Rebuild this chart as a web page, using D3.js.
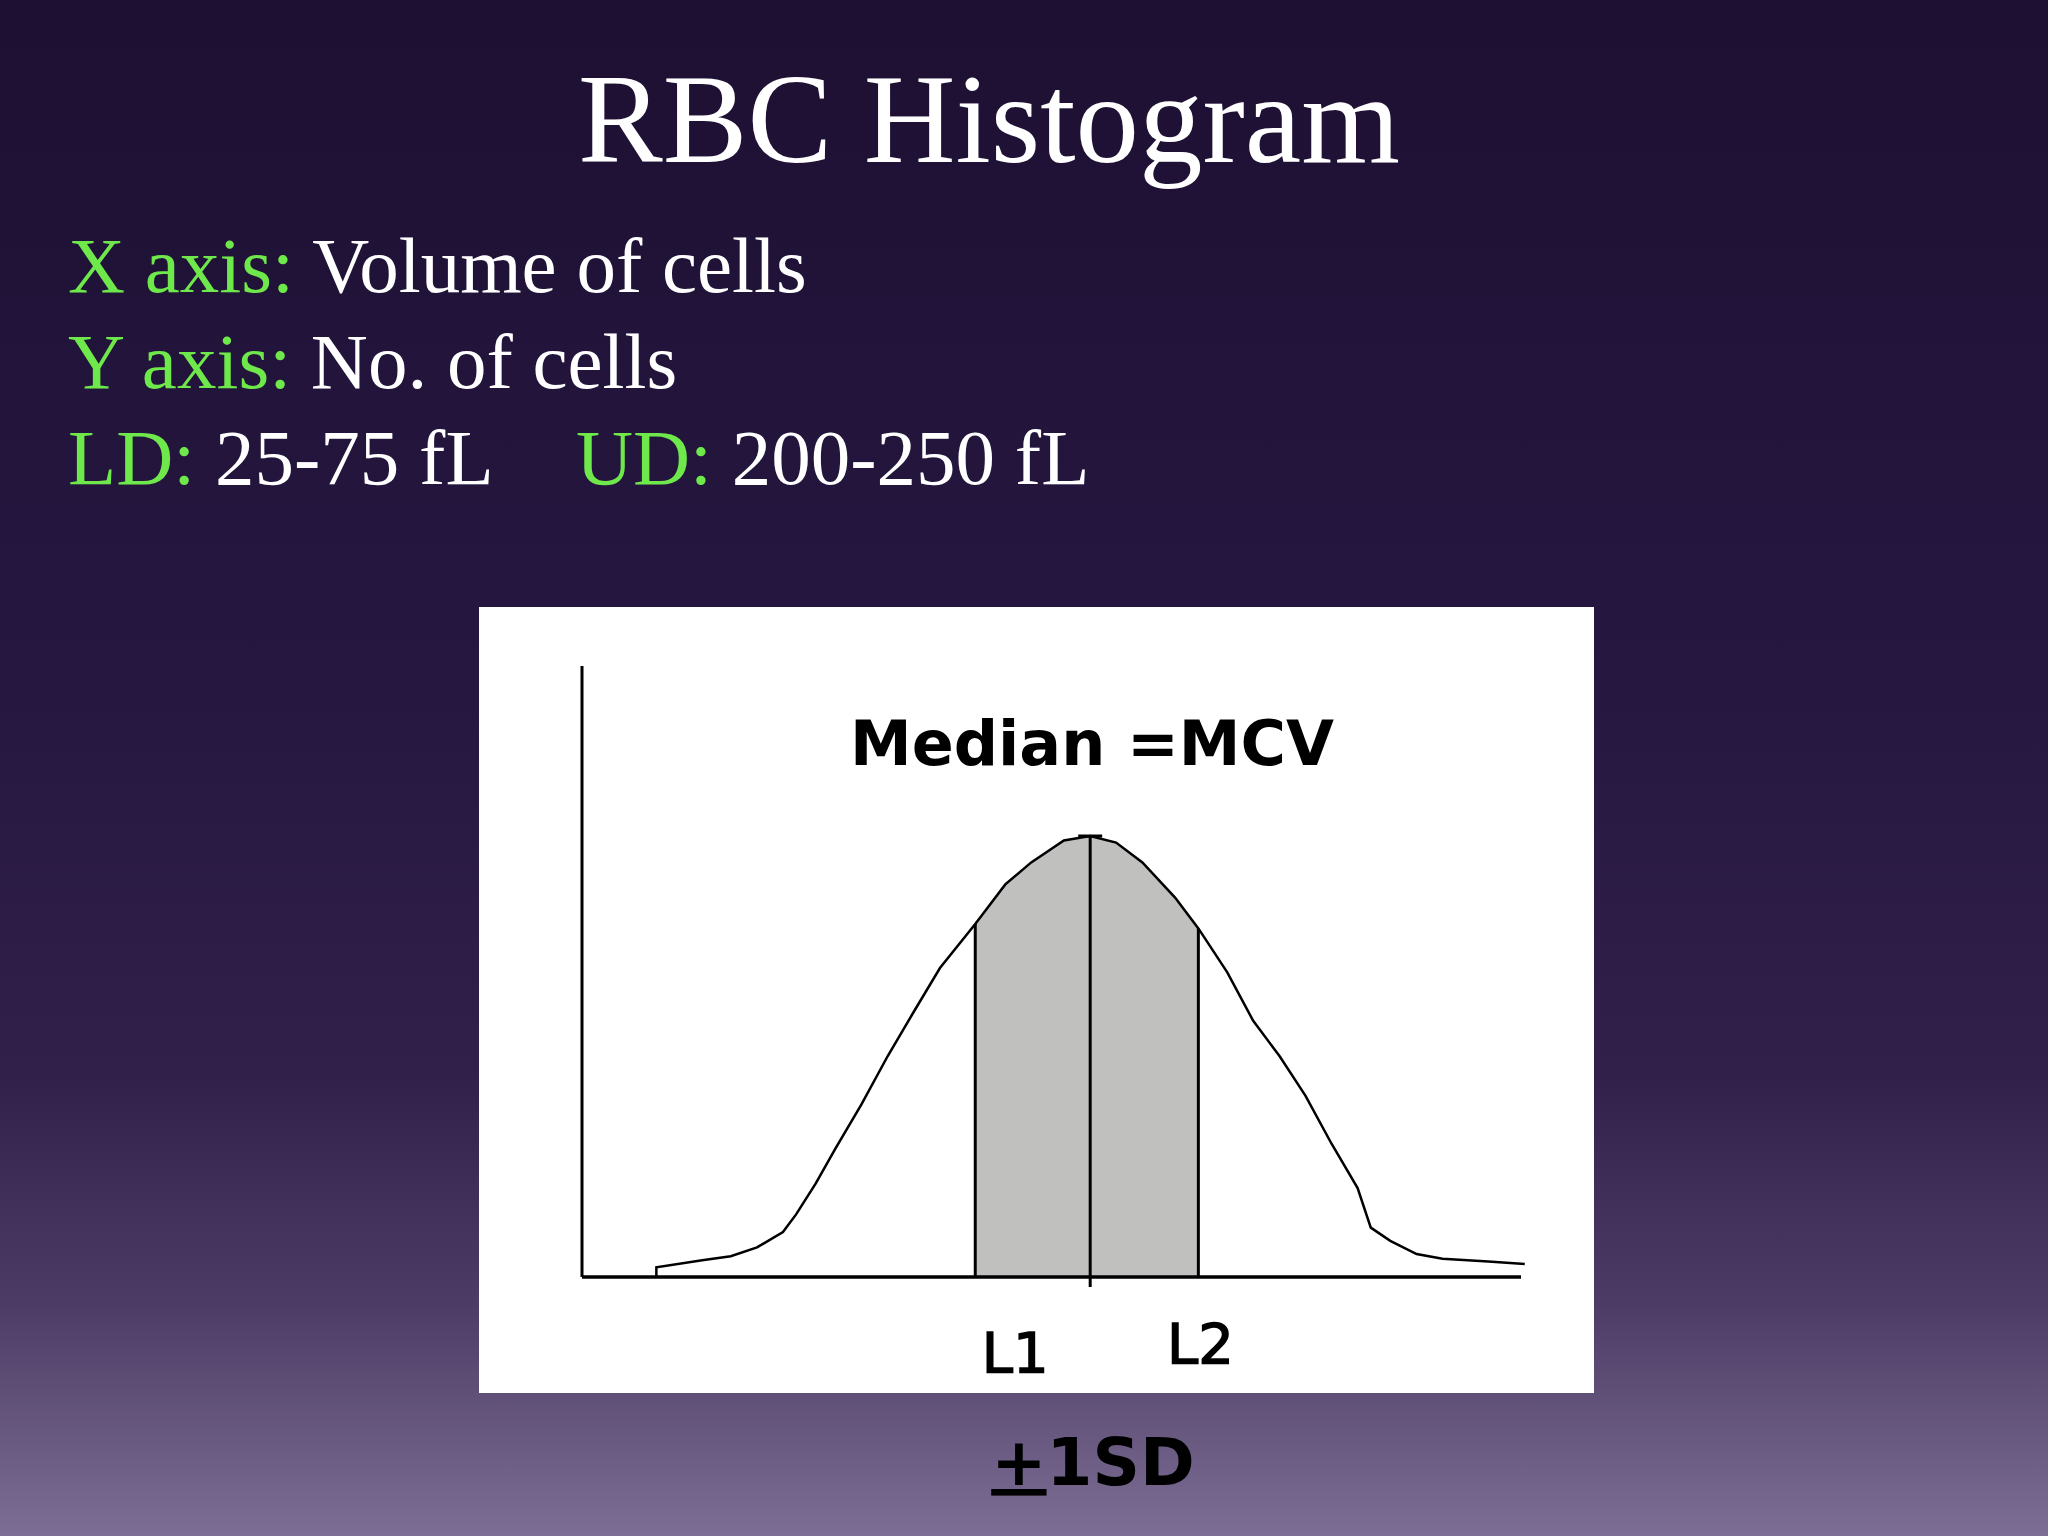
<!DOCTYPE html>
<html><head><meta charset="utf-8">
<script src="https://cdn.jsdelivr.net/npm/d3@7"></script>
<style>body{margin:0;background:#201237}svg{display:block}</style>
</head><body>
<script>
const volume = [19.8,19.8,32,39.6,46.6,53.5,57,62.2,67.5,74.4,81.4,88.3,95.3,104.7,112.7,119.6,128.3,135.3,142.2,149.2,157.9,164.1,171.8,178.7,185.7,192.6,199.6,206.5,210,215.2,222.2,229.1,241.3,251];
const counts = [0,2,3.6,4.5,6.5,10,14,21,29,39,50,60,70,80,89,94,99,100,98.5,94,86,79,69,58,50,41,30,20,11,8,5,3.9,3.3,2.7];
const L1 = 104.7, MEDIAN = 135.3, L2 = 164.1;
const infoLines = [
  [["X axis: ","#6ee84a"],["Volume of cells","#fff"]],
  [["Y axis: ","#6ee84a"],["No. of cells","#fff"]],
];
const W=2048,H=1536;
const svg=d3.select("body").append("svg").attr("width",W).attr("height",H);
const defs=svg.append("defs");
const g=defs.append("linearGradient").attr("id","bg").attr("x1",0).attr("y1",0).attr("x2",0).attr("y2",1);
[[0,"#1d1032"],[0.45,"#261741"],[0.7,"#30204a"],[0.85,"#4d3d66"],[1,"#7d6e95"]].forEach(s=>g.append("stop").attr("offset",s[0]).attr("stop-color",s[1]));
svg.append("rect").attr("width",W).attr("height",H).attr("fill","url(#bg)");
const serif="'Liberation Serif','Times New Roman',serif";
svg.append("text").attr("x",989).attr("y",162).attr("text-anchor","middle").attr("font-family",serif).attr("font-size",127).attr("fill","#fff").text("RBC Histogram");
infoLines.forEach((ln,i)=>{const t=svg.append("text").attr("x",68).attr("y",292+i*96).attr("font-family",serif).attr("font-size",79);
 ln.forEach(p=>t.append("tspan").attr("fill",p[1]).text(p[0]));});
const t3=svg.append("text").attr("x",68).attr("y",484).attr("font-family",serif).attr("font-size",79);
t3.append("tspan").attr("fill","#6ee84a").text("LD: ");t3.append("tspan").attr("fill","#fff").text("25-75 fL");
const t4=svg.append("text").attr("x",576).attr("y",484).attr("font-family",serif).attr("font-size",79);
t4.append("tspan").attr("fill","#6ee84a").text("UD: ");t4.append("tspan").attr("fill","#fff").text("200-250 fL");
svg.append("rect").attr("x",479).attr("y",607).attr("width",1115).attr("height",786).attr("fill","#fff");
const x=d3.scaleLinear().domain([0,250]).range([582,1521]);
const y=d3.scaleLinear().domain([0,100]).range([1276,836]);
const data=volume.map((v,i)=>({v,c:counts[i]}));
defs.append("clipPath").attr("id","sd").append("rect").attr("x",x(L1)).attr("width",x(L2)-x(L1)).attr("y",0).attr("height",H);
svg.append("path").datum(data).attr("clip-path","url(#sd)").attr("fill","#c0c1bf")
 .attr("d",d3.area().x(d=>x(d.v)).y0(y(0)).y1(d=>y(d.c)));
svg.append("path").datum(data).attr("fill","none").attr("stroke","#000").attr("stroke-width",2.5)
 .attr("d",d3.line().x(d=>x(d.v)).y(d=>y(d.c)));
svg.append("line").attr("x1",582).attr("x2",582).attr("y1",666).attr("y2",1277).attr("stroke","#000").attr("stroke-width",3);
svg.append("line").attr("x1",582).attr("x2",1521).attr("y1",1277).attr("y2",1277).attr("stroke","#000").attr("stroke-width",3.5);
const cAt=v=>counts[volume.indexOf(v)];
[L1,MEDIAN,L2].forEach(v=>svg.append("line").attr("x1",x(v)).attr("x2",x(v)).attr("y1",y(0)).attr("y2",y(cAt(v))).attr("stroke","#000").attr("stroke-width",3));
svg.append("line").attr("x1",x(MEDIAN)-12).attr("x2",x(MEDIAN)+12).attr("y1",y(100)).attr("y2",y(100)).attr("stroke","#000").attr("stroke-width",3);
svg.append("line").attr("x1",x(MEDIAN)).attr("x2",x(MEDIAN)).attr("y1",1277).attr("y2",1287).attr("stroke","#000").attr("stroke-width",3);
const bold="'DejaVu Sans',Verdana,sans-serif";
svg.append("text").attr("x",1092).attr("y",765).attr("text-anchor","middle").attr("font-family",bold).attr("font-weight","bold").attr("font-size",62).text("Median =MCV");
svg.append("text").attr("x",x(L1)+40).attr("y",1372).attr("text-anchor","middle").attr("font-family",bold).attr("font-size",56).attr("stroke","#000").attr("stroke-width",1.5).text("L1");
svg.append("text").attr("x",x(L2)+2).attr("y",1363).attr("text-anchor","middle").attr("font-family",bold).attr("font-size",56).attr("stroke","#000").attr("stroke-width",1.5).text("L2");
const sd=svg.append("text").attr("x",1093).attr("y",1485).attr("text-anchor","middle").attr("font-family",bold).attr("font-weight","bold").attr("font-size",66);
sd.append("tspan").attr("text-decoration","underline").text("+");sd.append("tspan").text("1SD");
</script>
</body></html>
